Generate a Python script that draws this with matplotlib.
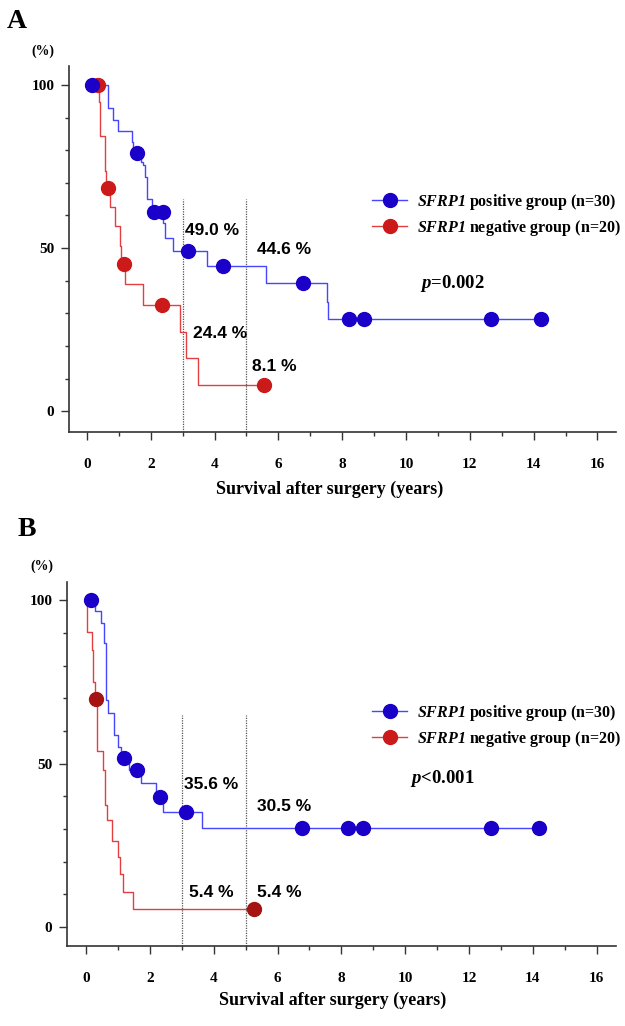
"""Kaplan-Meier style survival curves, SFRP1 positive vs negative (panels A and B)."""

import numpy as np
import matplotlib

matplotlib.use("Agg")
import matplotlib.pyplot as plt
from matplotlib.lines import Line2D

SERIF = "Liberation Serif"
SANS = "Liberation Sans"

plt.rcParams["font.family"] = [SERIF, "DejaVu Serif"]
plt.rcParams["mathtext.fontset"] = "custom"
plt.rcParams["mathtext.it"] = "Liberation Serif:italic:bold"
plt.rcParams["mathtext.rm"] = "Liberation Serif:italic:bold"

# ---- panel A data (step times in years, survival % after each step) ----
a_pos_times = [0, 0.67, 0.82, 0.98, 1.40, 1.45, 1.69, 1.77, 1.82, 1.87, 2.03,
               2.39, 2.45, 2.71, 3.75, 5.60, 7.51, 7.56, 14.22]
a_pos_surv = [100, 93.0, 89.3, 86.0, 82.6, 79.0, 76.5, 75.5, 71.9, 65.0, 61.0,
              57.6, 53.0, 49.0, 44.6, 39.4, 33.5, 28.2, 28.2]
a_pos_censor = [0.15, 1.57, 2.11, 2.37, 3.18, 4.27, 6.78, 8.22, 8.69, 12.66, 14.22]

a_neg_times = [0, 0.37, 0.41, 0.57, 0.61, 0.74, 0.88, 1.03, 1.08, 1.19, 1.75,
               2.92, 3.10, 3.47, 5.55]
a_neg_surv = [100, 94.9, 84.4, 73.7, 68.5, 62.7, 56.7, 50.7, 45.1, 38.9, 32.5,
              24.3, 16.2, 8.1, 8.1]
a_neg_censor = [0.35, 0.67, 1.16, 2.34, 5.55]

a_labels = ["49.0 %", "44.6 %", "24.4 %", "8.1 %"]
a_label_x = [3.07, 5.32, 3.33, 5.16]
a_label_y = [55.5, 49.6, 23.8, 13.6]
a_pvalue = r"$\mathit{p}$=0.002"
a_pvalue_xy = (10.44, 39.0)

# ---- panel B data ----
b_pos_times = [0, 0.28, 0.46, 0.56, 0.63, 0.70, 0.88, 1.01, 1.10, 1.35, 1.71,
               2.19, 2.42, 3.64, 14.21]
b_pos_surv = [100, 96.6, 92.9, 86.8, 69.4, 65.6, 58.7, 55.1, 51.8, 48.2, 44.1,
              39.8, 35.3, 30.2, 30.2]
b_pos_censor = [0.16, 1.19, 1.61, 2.30, 3.13, 6.78, 8.22, 8.67, 12.68, 14.21]

b_neg_times = [0, 0.04, 0.18, 0.23, 0.28, 0.33, 0.52, 0.60, 0.65, 0.82, 1.01,
               1.07, 1.17, 1.46, 5.27]
b_neg_surv = [100, 90.3, 84.7, 75.0, 69.9, 53.9, 48.0, 37.5, 32.7, 26.4, 21.5,
              16.2, 10.8, 5.4, 5.4]
b_neg_censor = [0.30, 5.27]

b_labels = ["35.6 %", "30.5 %", "5.4 %", "5.4 %"]
b_label_x = [3.07, 5.37, 3.21, 5.35]
b_label_y = [43.7, 37.0, 10.5, 10.5]
b_pvalue = r"$\mathit{p}$<0.001"
b_pvalue_xy = (10.16, 45.5)

landmarks = [3, 5]
legend_labels = [r"$\mathit{SFRP1}$ positive group (n=30)",
                 r"$\mathit{SFRP1}$ negative group (n=20)"]
x_major = [0, 2, 4, 6, 8, 10, 12, 14, 16]
y_major = [0, 50, 100]

BLUE_LINE = "#4646ff"
BLUE_DOT = "#1a00c8"
RED_LINE = "#e24040"
RED_DOT_A = "#cc1a1a"
RED_DOT_B = "#a51313"
AXIS = "#333333"


def level_at(times, surv, t):
    idx = np.searchsorted(times, t, side="right") - 1
    return np.asarray(surv)[idx]


def draw_panel(ax, pos, neg, red_dot, texts, pvalue, pvalue_xy, xlim, ylim,
               legend_top):
    for (times, surv, cens), line_c, dot_c in ((neg, RED_LINE, red_dot),
                                                (pos, BLUE_LINE, BLUE_DOT)):
        ax.step(times, surv, where="post", color=line_c, lw=1.0, zorder=2)
        ax.plot(cens, level_at(times, surv, cens), "o", ms=10, color=dot_c,
                mec=dot_c, zorder=3)

    ax.vlines(landmarks, ylim[0], 65, colors="#555555", lw=0.9,
              linestyles=(0, (1, 1)), zorder=1)

    for lab, x, y in zip(*texts):
        ax.text(x, y, lab, family=SANS, weight="bold", fontsize=12.5,
                ha="left", va="center")
    ax.text(*pvalue_xy, pvalue, fontsize=13.5, weight="bold", ha="left",
            va="center")

    ax.set_xlim(*xlim)
    ax.set_ylim(*ylim)
    ax.set_xticks(x_major)
    ax.set_xticks(range(1, 16, 2), minor=True)
    ax.set_yticks(y_major)
    ax.set_yticks(range(10, 100, 10), minor=True)
    ax.tick_params(which="major", length=5.5, width=1.0, color=AXIS,
                   labelsize=11)
    ax.tick_params(which="minor", length=2.8, width=1.0, color=AXIS)
    ax.tick_params(axis="x", which="major", pad=13)
    ax.tick_params(axis="y", which="major", pad=5)
    for lab in ax.get_xticklabels() + ax.get_yticklabels():
        lab.set_fontweight("bold")
    for side in ("top", "right"):
        ax.spines[side].set_visible(False)
    for side in ("left", "bottom"):
        ax.spines[side].set_color(AXIS)
        ax.spines[side].set_linewidth(1.2)

    handles = [Line2D([], [], color=BLUE_LINE, lw=1.0, marker="o", ms=10,
                      mfc=BLUE_DOT, mec=BLUE_DOT),
               Line2D([], [], color=RED_LINE, lw=1.0, marker="o", ms=10,
                      mfc=RED_DOT_A, mec=RED_DOT_A)]
    leg = ax.legend(handles, legend_labels, loc="upper left", frameon=False,
                    bbox_to_anchor=(372 / 625, 1 - legend_top / 1026),
                    bbox_transform=ax.figure.transFigure, borderpad=0,
                    borderaxespad=0, handlelength=2.2, handletextpad=0.6,
                    labelspacing=0.35, fontsize=11.5)
    for txt in leg.get_texts():
        txt.set_fontweight("bold")


fig = plt.figure(figsize=(6.25, 10.26), dpi=100)

ax_a = fig.add_axes([69 / 625, 1 - 432 / 1026, 547 / 625, 366 / 1026])
draw_panel(ax_a, (a_pos_times, a_pos_surv, a_pos_censor),
           (a_neg_times, a_neg_surv, a_neg_censor), RED_DOT_A,
           (a_labels, a_label_x, a_label_y), a_pvalue, a_pvalue_xy,
           (-0.56, 16.58), (-6.4, 105.8), 192)
ax_a.set_xlabel("Survival after surgery (years)", fontsize=13, weight="bold")
ax_a.xaxis.set_label_coords((330 - 69) / 547, -(481 - 432) / 366)

ax_b = fig.add_axes([67 / 625, 1 - 946 / 1026, 549 / 625, 364 / 1026])
draw_panel(ax_b, (b_pos_times, b_pos_surv, b_pos_censor),
           (b_neg_times, b_neg_surv, b_neg_censor), RED_DOT_B,
           (b_labels, b_label_x, b_label_y), b_pvalue, b_pvalue_xy,
           (-0.6, 16.61), (-5.8, 105.6), 703)
ax_b.set_xlabel("Survival after surgery (years)", fontsize=13, weight="bold")
ax_b.xaxis.set_label_coords((333 - 67) / 549, -(992 - 946) / 364)

fig.text(17 / 625, 1 - 22 / 1026, "A", fontsize=20, weight="bold",
         ha="center", va="center")
fig.text(27 / 625, 1 - 530 / 1026, "B", fontsize=20, weight="bold",
         ha="center", va="center")
fig.text(43 / 625, 1 - 51 / 1026, "(%)", fontsize=10, weight="bold",
         ha="center", va="center")
fig.text(42 / 625, 1 - 566 / 1026, "(%)", fontsize=10, weight="bold",
         ha="center", va="center")

fig.savefig("out.png", dpi=100)
